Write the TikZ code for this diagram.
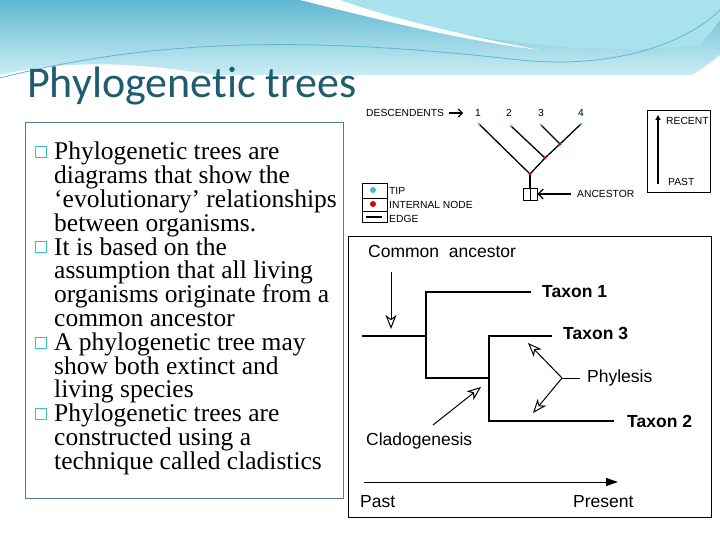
\documentclass[tikz,border=0pt]{standalone}
\usepackage{fontspec}
\setmainfont{Liberation Serif}
\setsansfont{Liberation Sans}
\newfontfamily\titlefont[Ligatures=NoCommon]{Carlito}
\usetikzlibrary{arrows.meta}
\definecolor{teal1}{HTML}{1F5C70}
\definecolor{cyanb}{HTML}{3CC0C8}
\definecolor{wave1}{HTML}{5FB8D2}
\definecolor{wave2}{HTML}{A8E2EC}
\begin{document}
\begin{tikzpicture}[x=1pt,y=-1pt,
  lbl/.style={font=\sffamily\fontsize{10.3}{10}\selectfont,inner sep=0pt,anchor=west},
  big/.style={font=\sffamily\fontsize{17.5}{17}\selectfont,inner sep=0pt,anchor=west},
  bigb/.style={font=\sffamily\bfseries\fontsize{17.5}{17}\selectfont,inner sep=0pt,anchor=west},
  tree/.style={line width=2.6pt},
  oarrow/.style={line width=1pt,-{Stealth[open,length=14pt,width=11pt,inset=4pt]}},
  bul/.style={draw=cyanb,line width=1.2pt,minimum size=11pt,inner sep=0pt}]
\useasboundingbox (0,0) rectangle (720,540);
% header
\shade[top color=wave1,bottom color=wave2!60] (0,0) rectangle (720,75);
\fill[white] (0,75) .. controls (150,40) and (300,100) .. (500,130) .. controls (600,140) and (690,80) .. (720,55) -- (720,540) -- (0,540) -- cycle;
\fill[wave2] (330,0) .. controls (420,30) and (560,60) .. (700,45) -- (720,20) -- (720,0) -- cycle;
\fill[white] (300,0) .. controls (380,20) and (460,40) .. (540,50) .. controls (460,35) and (380,15) .. (340,0) -- cycle;
\draw[wave1,line width=0.8pt] (0,78) .. controls (150,40) and (300,35) .. (520,60) .. controls (620,70) and (690,40) .. (720,10);
\node[font=\titlefont\fontsize{44}{44}\selectfont,text=teal1,anchor=base west,inner sep=0pt] (title) at (27,98) {Phylogenetic trees};
% left text box
\draw[teal1!80,line width=0.8pt] (25,122) rectangle (343,498);
\foreach \y/\name in {152/b1,247/b2,343/b3,414/b4} \node[bul] (\name) at (41,\y) {};
\node[anchor=north west,inner sep=0pt,align=left,font=\fontsize{25.5}{23.8}\selectfont] (txt) at (54,142) {%
Phylogenetic trees are\\diagrams that show the\\‘evolutionary’ relationships\\between organisms.\\It is based on the\\assumption that all living\\organisms originate from a\\common ancestor\\A phylogenetic tree may\\show both extinct and\\living species\\Phylogenetic trees are\\constructed using a\\technique called cladistics};
% top right tree
\node[lbl] (desc) at (366,113) {DESCENDENTS};
\coordinate (da) at (449,113); \coordinate (db) at (463,113);
\draw[line width=1.2pt,-{Straight Barb[length=4pt]}] (da) -- (db);
\foreach \x/\n in {478/1,509/2,541/3,581/4} \node[lbl,anchor=center] (n\n) at (\x,113) {\n};
\coordinate (t1) at (479,124); \coordinate (t2) at (511,126);
\coordinate (t3) at (541,125); \coordinate (t4) at (581,124);
\coordinate (r) at (530,174); \coordinate (i2) at (545,158); \coordinate (i3) at (560,144);
\draw[line width=1.3pt] (t1) -- (r) -- (i2) -- (i3) -- (t4);
\draw[line width=1.3pt] (t2) -- (i2); \draw[line width=1.3pt] (t3) -- (i3);
\draw[line width=1.3pt] (r) -- (530,188);
\foreach \c in {t1,t2,t3,t4} \fill[cyanb] (\c) circle (1.3pt);
\foreach \c in {r,i2,i3} \fill[red!80!black] (\c) circle (1.6pt);
\node[draw,line width=0.6pt,minimum width=14pt,minimum height=12pt,inner sep=0pt] (anc) at (530,194) {};
\draw[line width=0.6pt] (anc.north) -- (anc.south);
\node[lbl] (anct) at (577,194) {ANCESTOR};
\draw[line width=1.2pt,-{Straight Barb[length=5pt]}] (anct.west)++(-6,0) -- (anc.east);
% legend
\draw[line width=0.6pt] (362,183) rectangle (387,222);
\draw[line width=0.6pt] (362,198) -- (387,198); \draw[line width=0.6pt] (362,211) -- (387,211);
\fill[cyanb] (373,190) circle (3pt); \fill[red!85!black] (373,204) circle (3pt);
\draw[line width=1.4pt] (366,217) -- (382,217);
\node[lbl] (tip) at (389,191) {TIP};
\node[lbl] (int) at (389,205) {INTERNAL NODE};
\node[lbl] (edge) at (389,219) {EDGE};
% recent box
\draw[line width=0.6pt] (647,110) rectangle (710,192);
\coordinate (pa) at (658,184); \coordinate (re) at (658,115);
\draw[line width=1.3pt,-{Triangle[length=5pt,width=5pt]}] (pa) -- (re);
\node[lbl] (rec) at (666,121) {RECENT};
\node[lbl] (past) at (668,182) {PAST};
% bottom diagram
\draw[line width=0.8pt] (348,236) rectangle (711,517);
\node[big] (ca) at (368,251) {Common\ \ ancestor};
\coordinate (root) at (362,336);
\draw[tree] (root) -- (426,336);
\draw[tree] (531,292) -- (426,292) -- (426,378) -- (489,378);
\draw[tree] (552,336) -- (489,336) -- (489,421) -- (614,421);
\node[bigb] (tx1) at (542,292) {Taxon 1};
\node[bigb] (tx3) at (563,333) {Taxon 3};
\node[bigb] (tx2) at (627,421) {Taxon 2};
\draw[oarrow] (391,272) -- (391,329);
\node[big] (clado) at (366,441) {Cladogenesis};
\draw[oarrow] (433,425) -- (481,387);
\node[big] (phy) at (587,378) {Phylesis};
\coordinate (pj) at (562,378);
\draw[line width=1pt] (pj) -- (580,378);
\draw[oarrow] (pj) -- (528,343);
\draw[oarrow] (pj) -- (533,413);
\draw[line width=1pt,-{Triangle[length=12pt,width=8pt]}] (364,482) -- (618,482);
\node[big] (pst) at (360,502) {Past};
\node[big] (pres) at (573,502) {Present};
\end{tikzpicture}
\end{document}
